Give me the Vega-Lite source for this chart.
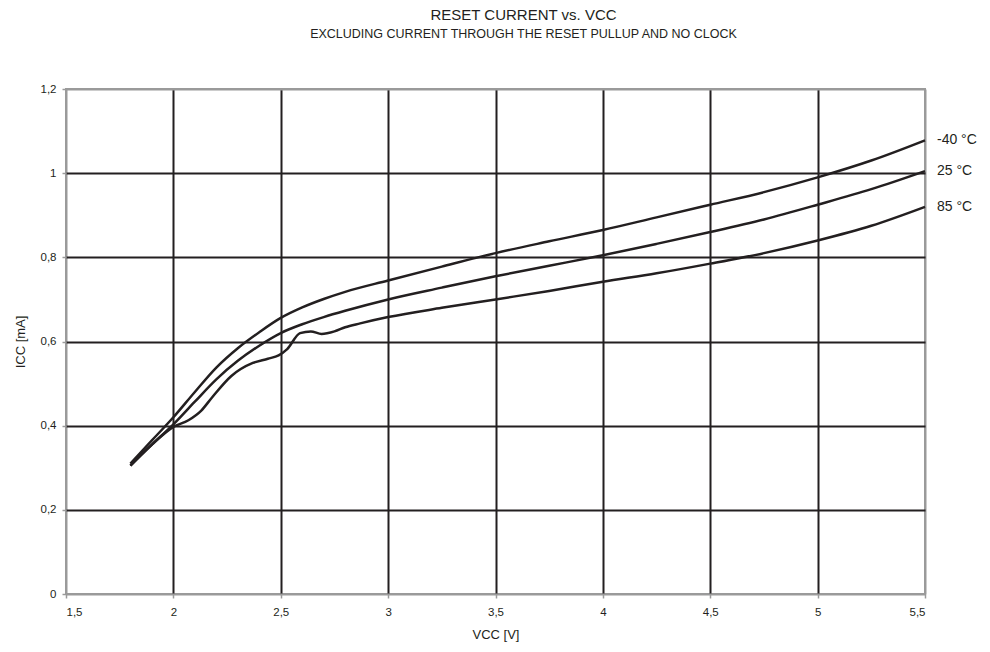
{
  "$schema": "https://vega.github.io/schema/vega-lite/v6.json",
  "autosize": {"type": "none"},
  "padding": {"left": 66, "top": 89, "right": 65, "bottom": 58},
  "width": 859,
  "height": 505,
  "background": "white",
  "title": {
    "text": "RESET CURRENT vs. VCC",
    "subtitle": "EXCLUDING CURRENT THROUGH THE RESET PULLUP AND NO CLOCK",
    "anchor": "middle",
    "dx": 28,
    "font": "Liberation Sans",
    "fontSize": 15,
    "fontWeight": "normal",
    "color": "#231f20",
    "subtitleFont": "Liberation Sans",
    "subtitleFontSize": 12.5,
    "subtitleColor": "#231f20",
    "subtitlePadding": 5,
    "offset": 43
  },
  "config": {
    "view": {"stroke": "#9a9a9a", "strokeWidth": 2},
    "axis": {
      "labelFont": "Liberation Sans",
      "labelFontSize": 11.5,
      "labelColor": "#231f20",
      "titleFont": "Liberation Sans",
      "titleFontSize": 13,
      "titleFontWeight": "normal",
      "titleColor": "#231f20",
      "domain": false,
      "tickColor": "#9a9a9a",
      "tickSize": 4,
      "tickWidth": 1.5,
      "gridWidth": 2
    }
  },
  "data": {
    "values": [
      {"t": "-40 °C", "v": 1.8, "i": 0.31},
      {"t": "-40 °C", "v": 1.9, "i": 0.365},
      {"t": "-40 °C", "v": 2.0, "i": 0.42},
      {"t": "-40 °C", "v": 2.1, "i": 0.48},
      {"t": "-40 °C", "v": 2.2, "i": 0.538},
      {"t": "-40 °C", "v": 2.3, "i": 0.584},
      {"t": "-40 °C", "v": 2.4, "i": 0.622},
      {"t": "-40 °C", "v": 2.5, "i": 0.656},
      {"t": "-40 °C", "v": 2.6, "i": 0.681},
      {"t": "-40 °C", "v": 2.7, "i": 0.701},
      {"t": "-40 °C", "v": 2.8, "i": 0.718},
      {"t": "-40 °C", "v": 3.0, "i": 0.745},
      {"t": "-40 °C", "v": 3.25, "i": 0.778},
      {"t": "-40 °C", "v": 3.5, "i": 0.81},
      {"t": "-40 °C", "v": 3.75, "i": 0.838},
      {"t": "-40 °C", "v": 4.0, "i": 0.865},
      {"t": "-40 °C", "v": 4.25, "i": 0.895},
      {"t": "-40 °C", "v": 4.5, "i": 0.925},
      {"t": "-40 °C", "v": 4.75, "i": 0.955},
      {"t": "-40 °C", "v": 5.0, "i": 0.99},
      {"t": "-40 °C", "v": 5.25, "i": 1.03},
      {"t": "-40 °C", "v": 5.5, "i": 1.078},
      {"t": "25 °C", "v": 1.8, "i": 0.305},
      {"t": "25 °C", "v": 1.9, "i": 0.355},
      {"t": "25 °C", "v": 2.0, "i": 0.403},
      {"t": "25 °C", "v": 2.1, "i": 0.457},
      {"t": "25 °C", "v": 2.2, "i": 0.51},
      {"t": "25 °C", "v": 2.3, "i": 0.554},
      {"t": "25 °C", "v": 2.4, "i": 0.59},
      {"t": "25 °C", "v": 2.5, "i": 0.62},
      {"t": "25 °C", "v": 2.6, "i": 0.641},
      {"t": "25 °C", "v": 2.7, "i": 0.658},
      {"t": "25 °C", "v": 2.8, "i": 0.673},
      {"t": "25 °C", "v": 3.0, "i": 0.70},
      {"t": "25 °C", "v": 3.25, "i": 0.728},
      {"t": "25 °C", "v": 3.5, "i": 0.755},
      {"t": "25 °C", "v": 3.75, "i": 0.78},
      {"t": "25 °C", "v": 4.0, "i": 0.805},
      {"t": "25 °C", "v": 4.25, "i": 0.832},
      {"t": "25 °C", "v": 4.5, "i": 0.86},
      {"t": "25 °C", "v": 4.75, "i": 0.89},
      {"t": "25 °C", "v": 5.0, "i": 0.925},
      {"t": "25 °C", "v": 5.25, "i": 0.962},
      {"t": "25 °C", "v": 5.5, "i": 1.005},
      {"t": "85 °C", "v": 1.8, "i": 0.305},
      {"t": "85 °C", "v": 1.9, "i": 0.355},
      {"t": "85 °C", "v": 2.0, "i": 0.397},
      {"t": "85 °C", "v": 2.07, "i": 0.413},
      {"t": "85 °C", "v": 2.13, "i": 0.436},
      {"t": "85 °C", "v": 2.18, "i": 0.467},
      {"t": "85 °C", "v": 2.27, "i": 0.518},
      {"t": "85 °C", "v": 2.37, "i": 0.549},
      {"t": "85 °C", "v": 2.44, "i": 0.559},
      {"t": "85 °C", "v": 2.49, "i": 0.567},
      {"t": "85 °C", "v": 2.53, "i": 0.582},
      {"t": "85 °C", "v": 2.59, "i": 0.62},
      {"t": "85 °C", "v": 2.64, "i": 0.624},
      {"t": "85 °C", "v": 2.69, "i": 0.618},
      {"t": "85 °C", "v": 2.75, "i": 0.624},
      {"t": "85 °C", "v": 2.8, "i": 0.634},
      {"t": "85 °C", "v": 2.87, "i": 0.643},
      {"t": "85 °C", "v": 3.0, "i": 0.658},
      {"t": "85 °C", "v": 3.25, "i": 0.68},
      {"t": "85 °C", "v": 3.5, "i": 0.70},
      {"t": "85 °C", "v": 3.75, "i": 0.72},
      {"t": "85 °C", "v": 4.0, "i": 0.742},
      {"t": "85 °C", "v": 4.25, "i": 0.762},
      {"t": "85 °C", "v": 4.5, "i": 0.785},
      {"t": "85 °C", "v": 4.75, "i": 0.81},
      {"t": "85 °C", "v": 5.0, "i": 0.84},
      {"t": "85 °C", "v": 5.25, "i": 0.875},
      {"t": "85 °C", "v": 5.5, "i": 0.92}
    ]
  },
  "layer": [
    {
      "mark": {"type": "line", "interpolate": "monotone", "color": "#231f20", "strokeWidth": 2.5},
      "encoding": {
        "x": {
          "field": "v", "type": "quantitative",
          "scale": {"domain": [1.5, 5.5], "nice": false, "zero": false},
          "axis": {
            "title": "VCC [V]",
            "values": [1.5, 2, 2.5, 3, 3.5, 4, 4.5, 5, 5.5],
            "labelExpr": "replace(toString(datum.value), '.', ',')",
            "labelPadding": 8,
            "titlePadding": 11,
            "gridColor": {"condition": {"test": "datum.value == 1.5 || datum.value == 5.5", "value": "#9a9a9a"}, "value": "#231f20"}
          }
        },
        "y": {
          "field": "i", "type": "quantitative",
          "scale": {"domain": [0, 1.2], "nice": false},
          "axis": {
            "title": "ICC [mA]",
            "values": [0, 0.2, 0.4, 0.6, 0.8, 1, 1.2],
            "labelExpr": "replace(toString(datum.value), '.', ',')",
            "labelPadding": 6,
            "titlePadding": 13,
            "gridColor": {"condition": {"test": "datum.value == 0 || datum.value == 1.2", "value": "#9a9a9a"}, "value": "#231f20"}
          }
        },
        "detail": {"field": "t"}
      }
    },
    {
      "transform": [{"filter": "datum.v == 5.5"}],
      "mark": {"type": "text", "align": "left", "dx": 12, "font": "Liberation Sans", "fontSize": 14, "color": "#231f20", "clip": false},
      "encoding": {
        "x": {"field": "v", "type": "quantitative"},
        "y": {"field": "i", "type": "quantitative"},
        "text": {"field": "t"}
      }
    }
  ]
}
